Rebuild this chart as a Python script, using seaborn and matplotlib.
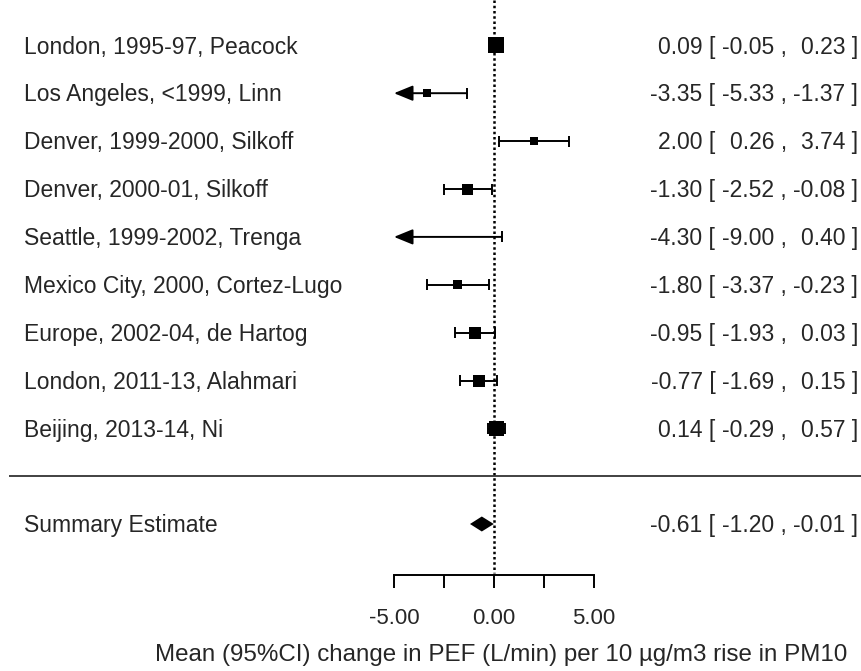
import numpy as np
import pandas as pd
import matplotlib
matplotlib.use("Agg")
import matplotlib.pyplot as plt
import seaborn as sns

# ---- data ----
studies = [
    "London, 1995-97, Peacock",
    "Los Angeles, <1999, Linn",
    "Denver, 1999-2000, Silkoff",
    "Denver, 2000-01, Silkoff",
    "Seattle, 1999-2002, Trenga",
    "Mexico City, 2000, Cortez-Lugo",
    "Europe, 2002-04, de Hartog",
    "London, 2011-13, Alahmari",
    "Beijing, 2013-14, Ni",
]
estimates = [0.09, -3.35, 2.00, -1.30, -4.30, -1.80, -0.95, -0.77, 0.14]
ci_low = [-0.05, -5.33, 0.26, -2.52, -9.00, -3.37, -1.93, -1.69, -0.29]
ci_high = [0.23, -1.37, 3.74, -0.08, 0.40, -0.23, 0.03, 0.15, 0.57]
weights_px = [16, 8, 8.5, 11, 5, 9, 12, 12, 15]   # square side (visual weight)

summary_label = "Summary Estimate"
summary_est = -0.61
summary_low = -1.20
summary_high = -0.01

tick_values = [-5, -2.5, 0, 2.5, 5]
tick_labels = ["-5.00", "", "0.00", "", "5.00"]
x_label = "Mean (95%CI) change in PEF (L/min) per 10 \u00b5g/m3 rise in PM10"

# ---- styling ----
sns.set_theme(style="white")
plt.rcParams["font.family"] = ["Liberation Sans", "DejaVu Sans"]
FS = 16.5          # row labels / numbers
FS_TICK = 16
FS_XLAB = 17.4
FPX = FS * 100 / 72   # font size in pixels

W, H = 862, 671
fig = plt.figure(figsize=(W / 100, H / 100), dpi=100)
ax = fig.add_axes([0, 0, 1, 1])
ax.set_facecolor("white")

PXX = 20.0          # pixels per x unit
X0 = 494.0          # pixel of x = 0
ROW = 47.9          # pixels per row
TOP = 45.3          # pixel of first row
ax.set_xlim(-X0 / PXX, (W - X0) / PXX)
ax.set_ylim((H - TOP) / ROW, -TOP / ROW)
px = 1 / PXX
py = 1 / ROW

clip = -5.0
rows = np.arange(len(studies))
sep_row = (476 - TOP) / ROW
sum_row = (524 - TOP) / ROW
axis_row = (575 - TOP) / ROW

df = pd.DataFrame({"study": studies, "est": estimates, "lo": ci_low,
                   "hi": ci_high, "w": weights_px, "row": rows})

lw = 1.4
cap = 5.5 * py
for _, r in df.iterrows():
    lo = max(r.lo, clip)
    if r.lo < clip:
        ax.annotate("", xy=(clip, r.row), xytext=(r.hi, r.row),
                    arrowprops=dict(arrowstyle="-|>,head_length=1.15,head_width=0.47",
                                    mutation_scale=10, lw=lw, color="black",
                                    shrinkA=0, shrinkB=0))
    else:
        ax.plot([lo, r.hi], [r.row, r.row], color="black", lw=lw,
                solid_capstyle="butt")
        ax.vlines(lo, r.row - cap, r.row + cap, color="black", lw=lw)
    ax.vlines(r.hi, r.row - cap, r.row + cap, color="black", lw=lw)

sizes = (np.array(weights_px) * 0.72) ** 2
sns.scatterplot(data=df, x="est", y="row", marker="s", color="black",
                s=sizes, linewidth=0, ax=ax, legend=False, zorder=5)

# summary diamond
dh = 7.5 * py
ax.fill([summary_low, summary_est, summary_high, summary_est],
        [sum_row, sum_row - dh, sum_row, sum_row + dh], color="black", lw=0)

# reference line
ax.vlines(0, -TOP / ROW, axis_row - 2 * py, color="black", lw=1.8,
          linestyles=(0, (1, 1.1)))

# separator
ax.hlines(sep_row, (9 - X0) / PXX, (W - X0) / PXX, color="#333333", lw=1.3)

# axis
for s in ["top", "left", "right"]:
    ax.spines[s].set_visible(False)
ax.spines["bottom"].set_position(("data", axis_row))
ax.spines["bottom"].set_bounds(-5, 5)
ax.spines["bottom"].set_linewidth(lw)
ax.spines["bottom"].set_color("black")
ax.set_xticks(tick_values)
ax.set_xticklabels(tick_labels)
ax.tick_params(axis="x", direction="out", length=9.5, width=lw, color="black",
               pad=14.5, labelsize=FS_TICK, bottom=True)
ax.set_yticks([])
ax.set_xlabel("")
ax.set_ylabel("")

# texts (baseline placed so that capitals are centred on the row)
base_off = 0.716 * FPX / 2 * py
left_x = (24 - X0) / PXX
for _, r in df.iterrows():
    ax.text(left_x, r.row + base_off, r.study, fontsize=FS, ha="left",
            va="baseline")
ax.text(left_x, sum_row + base_off, summary_label, fontsize=FS, ha="left",
        va="baseline")

end_px = 858
step = 3.113 * FPX
ex = (end_px - X0) / PXX
cx = (end_px - step - X0) / PXX
bx = (end_px - 2 * step - X0) / PXX


def right_text(y, e, l, h):
    yb = y + base_off
    ax.text(bx, yb, f"{e:.2f} [", fontsize=FS, ha="right", va="baseline")
    ax.text(cx, yb, f"{l:.2f} ,", fontsize=FS, ha="right", va="baseline")
    ax.text(ex, yb, f"{h:.2f} ]", fontsize=FS, ha="right", va="baseline")


for _, r in df.iterrows():
    right_text(r.row, r.est, r.lo, r.hi)
right_text(sum_row, summary_est, summary_low, summary_high)

ax.text((501 - X0) / PXX, (661 - TOP) / ROW, x_label, fontsize=FS_XLAB,
        ha="center", va="baseline")

fig.savefig("out.png", dpi=100, facecolor="white")
